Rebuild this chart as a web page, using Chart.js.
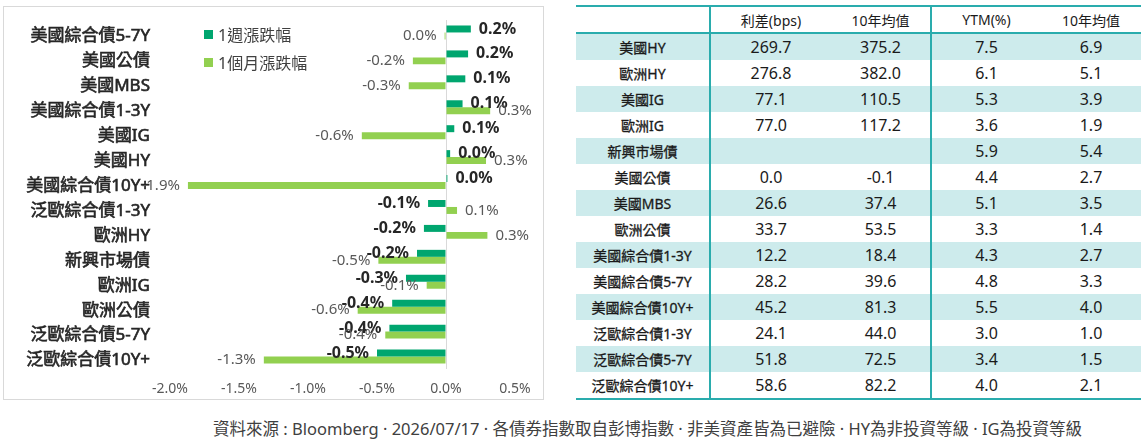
<!DOCTYPE html>
<html>
<head>
<meta charset="utf-8">
<script src="https://cdn.jsdelivr.net/npm/chart.js@4.4.1/dist/chart.umd.min.js"></script>
<style>
  body { margin:0; width:1141px; height:439px; background:#fff; position:relative; overflow:hidden;
         font-family:"Noto Sans","Noto Sans CJK TC",sans-serif; }
  #panel { position:absolute; left:3px; top:6px; width:539px; height:392px; border:1px solid #D9D9D9; }
  #wrap { position:absolute; left:0; top:0; width:545px; height:405px; }
  #legend { position:absolute; left:204px; top:20px; font-size:16px; color:#404040; }
  .li { display:flex; align-items:center; height:28px; }
  .sw { width:9px; height:9px; margin-right:5px; }
  table { position:absolute; left:576px; top:5px; width:565px; border-collapse:collapse; table-layout:fixed;
          border-top:2px solid #2AACAD; border-bottom:2px solid #2AACAD; color:#1a1a1a; }
  th, td { padding:0; text-align:center; height:26px; }
  th { font-size:14px; font-weight:normal; height:25px; border-bottom:2px solid #2AACAD; }
  td { font-size:16px; }
  td.lab { font-size:14px; -webkit-text-stroke:0.3px #1a1a1a; }
  .c1 { border-right:2px solid #2AACAD; }
  tr.fill td { background:#CDEBEC; }
  #note { position:absolute; left:213px; top:416px; font-size:16.5px; color:#404040; white-space:nowrap; }
</style>
</head>
<body>
<div id="panel"></div>
<div id="wrap"><canvas id="myChart"></canvas></div>
<div id="legend"></div>
<table id="tbl"></table>
<div id="note">資料來源 : Bloomberg · 2026/07/17 · 各債券指數取自彭博指數 · 非美資產皆為已避險 · HY為非投資等級 · IG為投資等級</div>
<script>
// bar chart data (% change)
var categories = ['美國綜合債5-7Y', '美國公債', '美國MBS', '美國綜合債1-3Y', '美國IG', '美國HY', '美國綜合債10Y+',
  '泛歐綜合債1-3Y', '歐洲HY', '新興市場債', '歐洲IG', '歐洲公債', '泛歐綜合債5-7Y', '泛歐綜合債10Y+'];
var weekChange = [0.18, 0.16, 0.14, 0.12, 0.06, 0.03, 0.01, -0.13, -0.16, -0.21, -0.29, -0.39, -0.41, -0.50];
var monthChange = [-0.01, -0.24, -0.27, 0.32, -0.61, 0.29, -1.87, 0.08, 0.30, -0.49, -0.14, -0.64, -0.44, -1.32];
var seriesNames = ['1週漲跌幅', '1個月漲跌幅'];

// table data
var tableHeader = ['', '利差(bps)', '10年均值', 'YTM(%)', '10年均值'];
var tableRows = ['美國HY', '歐洲HY', '美國IG', '歐洲IG', '新興市場債', '美國公債', '美國MBS', '歐洲公債',
  '美國綜合債1-3Y', '美國綜合債5-7Y', '美國綜合債10Y+', '泛歐綜合債1-3Y', '泛歐綜合債5-7Y', '泛歐綜合債10Y+'];
var spread = ['269.7', '276.8', '77.1', '77.0', '', '0.0', '26.6', '33.7', '12.2', '28.2', '45.2', '24.1', '51.8', '58.6'];
var spreadAvg = ['375.2', '382.0', '110.5', '117.2', '', '-0.1', '37.4', '53.5', '18.4', '39.6', '81.3', '44.0', '72.5', '82.2'];
var ytm = ['7.5', '6.1', '5.3', '3.6', '5.9', '4.4', '5.1', '3.3', '4.3', '4.8', '5.5', '3.0', '3.4', '4.0'];
var ytmAvg = ['6.9', '5.1', '3.9', '1.9', '5.4', '2.7', '3.5', '1.4', '2.7', '3.3', '4.0', '1.0', '1.5', '2.1'];

var FONT = '"Noto Sans", "Noto Sans CJK TC", sans-serif';
var colors = ['#00A66F', '#92D050'];

function fmt(v) {
  return (Math.round(v * 10) / 10).toFixed(1);
}

// data labels at bar ends
var barLabels = {
  id: 'barLabels',
  afterDatasetsDraw: function(chart) {
    var ctx = chart.ctx;
    chart.data.datasets.forEach(function(ds, i) {
      var meta = chart.getDatasetMeta(i);
      meta.data.forEach(function(bar, j) {
        var v = ds.data[j];
        var txt = fmt(v) + '%';
        ctx.save();
        ctx.font = i === 0 ? 'bold 16px ' + FONT : '15px ' + FONT;
        ctx.fillStyle = i === 0 ? '#262626' : '#595959';
        ctx.textBaseline = 'middle';
        if (v >= 0) {
          ctx.textAlign = 'left';
          ctx.fillText(txt, bar.x + 8, bar.y);
        } else {
          ctx.textAlign = 'right';
          ctx.fillText(txt, bar.x - 8, bar.y);
        }
        ctx.restore();
      });
    });
  }
};

var ctx = document.getElementById('myChart').getContext('2d');
var myChart = new Chart(ctx, {
  type: 'bar',
  data: {
    labels: categories,
    datasets: [
      { label: seriesNames[0], data: weekChange, backgroundColor: colors[0] },
      { label: seriesNames[1], data: monthChange, backgroundColor: colors[1] }
    ]
  },
  options: {
    indexAxis: 'y',
    responsive: true,
    maintainAspectRatio: false,
    animation: false,
    categoryPercentage: 0.56,
    barPercentage: 1,
    layout: { padding: { top: 20, right: 30, left: 0, bottom: 0 } },
    plugins: { legend: { display: false }, tooltip: { enabled: false } },
    scales: {
      x: {
        min: -2, max: 0.5,
        ticks: { stepSize: 0.5, padding: 12, color: '#595959', font: { family: FONT, size: 14 },
          callback: function(v) { return fmt(v) + '%'; } },
        grid: { drawTicks: false, color: function(c) { return c.tick && c.tick.value === 0 ? '#D9D9D9' : 'transparent'; } },
        border: { display: false },
        afterFit: function(scale) { scale.height = 36; }
      },
      y: {
        ticks: { padding: 20, labelOffset: 4, color: '#262626', textStrokeColor: '#262626', textStrokeWidth: 0.6,
          font: { family: FONT, size: 17 } },
        grid: { display: false, drawTicks: false },
        border: { display: false },
        afterFit: function(scale) {
          scale.width = 170;
          scale.paddingTop = 0;
          scale.paddingBottom = 0;
        }
      }
    }
  },
  plugins: [barLabels]
});

// legend from chart datasets
var legend = document.getElementById('legend');
myChart.data.datasets.forEach(function(ds) {
  var row = document.createElement('div');
  row.className = 'li';
  row.innerHTML = '<span class="sw" style="background:' + ds.backgroundColor + '"></span>' + ds.label;
  legend.appendChild(row);
});

// table
var widths = [134, 121, 100, 110, 100];
var tbl = document.getElementById('tbl');
var html = '<colgroup>' + widths.map(function(w) { return '<col style="width:' + w + 'px">'; }).join('') + '</colgroup>';
html += '<tr>' + tableHeader.map(function(h, k) {
  return '<th class="' + (k === 0 || k === 2 ? 'c1' : '') + '">' + h + '</th>';
}).join('') + '</tr>';
tableRows.forEach(function(name, r) {
  var cells = [name, spread[r], spreadAvg[r], ytm[r], ytmAvg[r]];
  html += '<tr class="' + (r % 2 === 0 ? 'fill' : '') + '">' + cells.map(function(c, k) {
    var cls = (k === 0 ? 'lab ' : '') + (k === 0 || k === 2 ? 'c1' : '');
    return '<td class="' + cls + '">' + c + '</td>';
  }).join('') + '</tr>';
});
tbl.innerHTML = html;
</script>
</body>
</html>
